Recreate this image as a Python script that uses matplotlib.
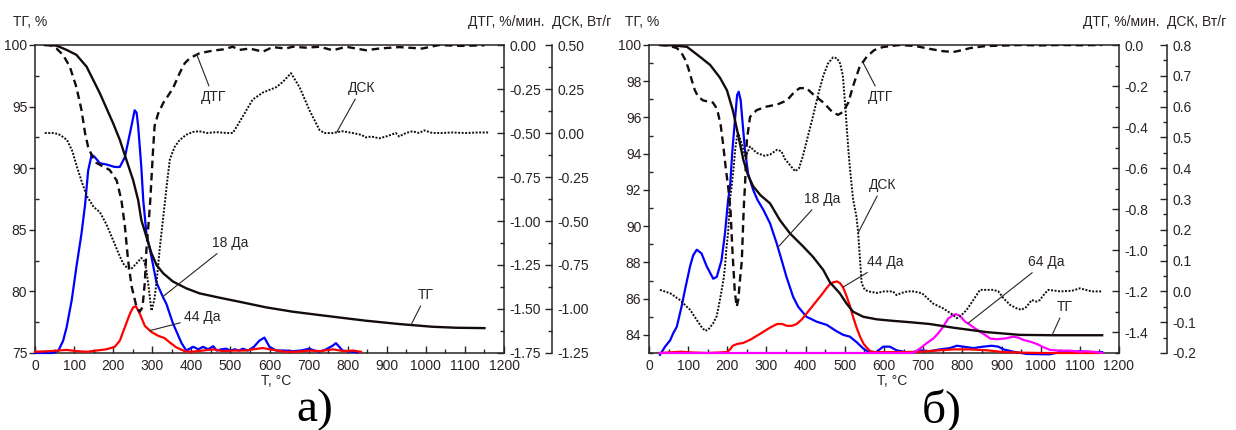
import numpy as np
import matplotlib
matplotlib.use("Agg")
import matplotlib.pyplot as plt
from matplotlib.ticker import MultipleLocator, FormatStrFormatter

plt.rcParams['font.family'] = ['Liberation Sans', 'DejaVu Sans']
plt.rcParams['axes.unicode_minus'] = False

INK = '#2a2323'
BLUE = '#0000ff'
RED = '#ff0000'
MAGENTA = '#ff00ff'

# ---------------- Panel a ----------------
A_TG_T = [25, 55, 81, 106, 132, 149, 166, 183, 200, 217, 234, 251, 264, 272, 285, 298, 311, 328,
          353, 387, 421, 472, 523, 592, 660, 728, 800, 847, 932, 1017, 1077, 1150]
A_TG = [100.0, 99.95, 99.6, 99.2, 98.24, 97.16, 96.08, 94.86, 93.64, 92.3, 90.66, 89.04, 87.4, 85.8,
        84.44, 83.1, 82.14, 81.47, 80.8, 80.25, 79.84, 79.49, 79.16, 78.7, 78.35, 78.08, 77.8, 77.62,
        77.35, 77.13, 77.05, 77.02]

A_DTG_T = [25, 38, 55, 72, 89, 106, 119, 128, 136, 145, 157, 174, 191, 209, 221, 230, 238, 247, 260,
           268, 275, 281, 285, 292, 295, 302, 306, 315, 328, 340, 353, 370, 383, 396, 421, 455, 481,
           506, 523, 549, 583, 608, 642, 659, 693, 728, 762, 796, 847, 881, 932, 991, 1034, 1085, 1150]
A_DTG = [0.0, 0.0, -0.02, -0.057, -0.123, -0.24, -0.37, -0.5, -0.58, -0.625, -0.67, -0.69, -0.71,
         -0.77, -0.88, -1.03, -1.22, -1.37, -1.49, -1.515, -1.49, -1.35, -1.165, -0.975, -0.88, -0.6,
         -0.46, -0.39, -0.33, -0.29, -0.246, -0.16, -0.104, -0.075, -0.047, -0.032, -0.025, -0.01,
         -0.028, -0.02, -0.038, -0.012, -0.02, -0.01, -0.015, -0.01, -0.03, -0.01, -0.03, -0.02,
         -0.012, -0.02, 0.0, -0.005, -0.002]

A_DSC_T = [25, 45, 59, 70, 82, 95, 107, 120, 133, 150, 166, 183, 200, 213, 225, 237, 247, 260, 272,
           280, 285, 291, 298, 305, 311, 319, 326, 332, 339, 345, 357, 370, 387, 404, 420, 440, 464,
           490, 506, 520, 541, 557, 583, 600, 617, 634, 655, 677, 702, 728, 740, 762, 787, 813, 834,
           847, 860, 881, 898, 911, 923, 932, 949, 966, 983, 996, 1017, 1042, 1068, 1102, 1136, 1162]
A_DSC = [0.0, 0.0, -0.005, -0.02, -0.04, -0.1, -0.19, -0.28, -0.36, -0.42, -0.45, -0.52, -0.61,
         -0.68, -0.74, -0.77, -0.77, -0.74, -0.71, -0.73, -0.78, -0.88, -1.01, -0.95, -0.85, -0.66,
         -0.52, -0.40, -0.26, -0.15, -0.08, -0.04, -0.01, 0.006, 0.01, 0.0, 0.005, 0.0, 0.0, 0.05,
         0.13, 0.19, 0.23, 0.245, 0.26, 0.29, 0.34, 0.26, 0.13, 0.017, 0.0, 0.0, 0.01, 0.0, -0.01,
         -0.025, -0.02, -0.03, -0.02, -0.01, 0.0, -0.02, 0.0, 0.01, 0.0, 0.015, 0.0, 0.0, 0.003,
         0.0, 0.003, 0.003]

A_M18_T = [0, 30, 45, 60, 72, 81, 94, 106, 119, 128, 136, 145, 153, 166, 183, 204, 217, 230, 243,
           255, 260, 264, 272, 277, 285, 298, 311, 328, 336, 353, 375, 387, 405, 418, 430, 443, 456,
           465, 477, 489, 500, 511, 522, 532, 545, 560, 574, 587, 600, 617, 640, 660, 680, 702, 715,
           728, 745, 762, 770, 787, 800, 813, 826]
A_M18 = [75.0, 75.0, 75.0, 75.2, 76.0, 77.1, 79.3, 82.0, 84.7, 87.0, 89.8, 91.1, 90.9, 90.4, 90.3,
         90.1, 90.1, 90.9, 92.85, 94.7, 94.5, 93.4, 90.1, 87.4, 84.7, 82.8, 80.7, 79.5, 79.0, 77.4,
         75.8, 75.2, 75.5, 75.3, 75.5, 75.3, 75.55, 75.2, 75.3, 75.35, 75.2, 75.3, 75.2, 75.35, 75.2,
         75.5, 76.0, 76.25, 75.5, 75.2, 75.2, 75.15, 75.2, 75.35, 75.2, 75.1, 75.3, 75.6, 75.8, 75.2,
         75.15, 75.1, 75.05]

A_M44_T = [0, 38, 81, 107, 133, 157, 183, 204, 217, 230, 243, 251, 258, 268, 281, 298, 315, 332,
           345, 362, 383, 400, 430, 456, 480, 510, 540, 558, 583, 610, 640, 670, 702, 730, 762, 790,
           813, 834]
A_M44 = [75.1, 75.15, 75.25, 75.15, 75.1, 75.2, 75.3, 75.5, 76.0, 77.1, 78.2, 78.7, 78.8, 78.2,
         77.2, 76.7, 76.4, 76.2, 75.85, 75.45, 75.15, 75.1, 75.2, 75.3, 75.15, 75.2, 75.2, 75.3, 75.4,
         75.25, 75.1, 75.1, 75.2, 75.15, 75.3, 75.15, 75.2, 75.1]

# ---------------- Panel б ----------------
B_TG_T = [28, 60, 97, 130, 156, 181, 199, 214, 227, 241, 253, 266, 285, 309, 334, 360, 394, 419,
          445, 462, 487, 504, 521, 547, 581, 620, 666, 717, 776, 863, 947, 1032, 1100, 1157]
B_TG = [100.0, 99.98, 99.9, 99.35, 98.9, 98.2, 97.5, 96.4, 95.1, 93.65, 92.8, 92.2, 91.7, 91.26,
        90.34, 89.6, 88.87, 88.3, 87.58, 86.9, 86.3, 85.74, 85.28, 85.0, 84.86, 84.78, 84.7, 84.6,
        84.4, 84.15, 84.0, 83.98, 83.98, 83.98]

B_DTG_T = [28, 50, 71, 82, 92, 100, 109, 117, 125, 138, 150, 163, 170, 176, 183, 189, 196, 202, 208,
           213, 219, 224, 228, 232, 237, 241, 243, 245, 250, 258, 275, 300, 327, 352, 372, 385, 402,
           419, 445, 470, 483, 496, 509, 521, 538, 556, 575, 597, 640, 680, 720, 750, 777, 800, 820,
           860, 900, 950, 1000, 1050, 1100, 1157]
B_DTG = [0.0, -0.003, -0.015, -0.035, -0.07, -0.11, -0.17, -0.22, -0.25, -0.27, -0.275, -0.28,
         -0.3, -0.33, -0.39, -0.48, -0.6, -0.69, -0.8, -1.0, -1.2, -1.275, -1.24, -1.15, -1.05,
         -0.84, -0.75, -0.69, -0.46, -0.35, -0.317, -0.3, -0.29, -0.27, -0.227, -0.21, -0.21, -0.24,
         -0.28, -0.33, -0.34, -0.325, -0.28, -0.2, -0.105, -0.057, -0.025, -0.01, 0.0, -0.005,
         -0.02, -0.03, -0.034, -0.025, -0.015, -0.005, -0.003, 0.0, -0.002, 0.0, -0.001, 0.0]

B_DSC_T = [28, 54, 79, 105, 122, 134, 143, 151, 164, 173, 181, 190, 194, 198, 202, 207, 211, 216,
           220, 225, 229, 234, 239, 245, 251, 258, 266, 275, 285, 296, 310, 327, 338, 347, 360, 373,
           383, 393, 405, 419, 432, 445, 457, 470, 480, 488, 495, 500, 509, 513, 521, 530, 534, 543,
           551, 560, 582, 600, 623, 632, 645, 660, 675, 697, 709, 726, 751, 777, 786, 798, 811, 828,
           845, 879, 892, 905, 922, 939, 951, 964, 977, 990, 998, 1011, 1020, 1050, 1080, 1100, 1130,
           1157]
B_DSC = [0.005, -0.006, -0.028, -0.06, -0.093, -0.115, -0.128, -0.125, -0.103, -0.08, -0.028,
         0.037, 0.08, 0.145, 0.19, 0.30, 0.34, 0.40, 0.46, 0.505, 0.51, 0.49, 0.47, 0.44, 0.45,
         0.47, 0.46, 0.45, 0.445, 0.44, 0.445, 0.46, 0.455, 0.43, 0.41, 0.39, 0.40, 0.44, 0.50,
         0.57, 0.64, 0.70, 0.74, 0.76, 0.757, 0.74, 0.70, 0.62, 0.46, 0.40, 0.30, 0.24, 0.19, 0.026,
         0.005, 0.0, -0.005, 0.0, 0.0, -0.012, -0.005, 0.0, 0.0, -0.006, -0.02, -0.04, -0.055,
         -0.077, -0.087, -0.077, -0.06, -0.028, 0.005, 0.005, 0.0, -0.022, -0.044, -0.055, -0.06,
         -0.05, -0.028, -0.033, -0.028, -0.006, 0.005, 0.0, 0.002, 0.01, 0.0, 0.0]

B_M18_T = [28, 41, 54, 62, 71, 83, 92, 105, 113, 122, 134, 147, 164, 173, 185, 194, 202, 207, 213,
           220, 225, 229, 234, 239, 245, 253, 266, 277, 292, 309, 326, 339, 351, 368, 381, 402, 428,
           454, 479, 496, 513, 530, 547, 560, 580, 598, 615, 632, 666, 692, 717, 743, 768, 786, 803,
           828, 853, 875, 892, 905, 930, 964, 1007, 1024, 1049, 1083, 1100, 1118, 1157]
B_M18 = [82.9, 83.35, 83.7, 84.1, 84.45, 85.55, 86.5, 87.8, 88.4, 88.7, 88.5, 87.8, 87.1, 87.2,
         88.1, 89.6, 91.45, 92.2, 94.2, 96.0, 97.24, 97.42, 96.96, 95.7, 94.2, 92.9, 92.0, 91.45,
         90.9, 90.16, 89.05, 88.1, 87.2, 86.1, 85.55, 85.0, 84.73, 84.55, 84.2, 84.0, 83.9, 83.6,
         83.25, 83.07, 83.05, 83.35, 83.35, 83.15, 83.0, 83.15, 83.1, 83.2, 83.27, 83.4, 83.35,
         83.27, 83.35, 83.4, 83.35, 83.2, 83.07, 82.95, 82.93, 82.93, 83.05, 83.05, 83.1, 83.05,
         83.05]

B_M44_T = [28, 80, 110, 150, 199, 207, 214, 225, 240, 260, 283, 309, 327, 340, 352, 365, 377, 390,
           403, 416, 429, 442, 454, 462, 470, 480, 488, 496, 505, 513, 521, 530, 539, 548, 556, 565,
           573, 600, 650, 692, 743, 777, 820, 863, 905, 950, 1000, 1050, 1100, 1150]
B_M44 = [83.0, 83.07, 83.03, 83.0, 83.05, 83.2, 83.4, 83.5, 83.55, 83.75, 84.05, 84.4, 84.6, 84.6,
         84.5, 84.5, 84.6, 84.85, 85.2, 85.55, 85.9, 86.25, 86.6, 86.8, 86.9, 86.95, 86.85, 86.6,
         86.1, 85.6, 85.0, 84.4, 83.9, 83.5, 83.3, 83.1, 83.05, 83.05, 83.05, 83.07, 83.15, 83.2,
         83.2, 83.15, 83.05, 83.02, 83.0, 83.0, 83.0, 83.0]

B_M64_T = [28, 300, 600, 674, 692, 709, 726, 739, 751, 764, 777, 784, 794, 807, 820, 832, 845, 858,
           871, 888, 909, 930, 943, 956, 973, 990, 1007, 1024, 1049, 1075, 1100, 1118, 1143, 1157]
B_M64 = [83.0, 83.0, 83.0, 83.0, 83.25, 83.54, 83.8, 84.1, 84.45, 84.9, 85.1, 85.14, 85.05, 84.73,
         84.55, 84.36, 84.18, 84.0, 83.8, 83.76, 83.8, 83.9, 83.85, 83.72, 83.63, 83.5, 83.32,
         83.17, 83.13, 83.13, 83.07, 83.1, 83.05, 83.0]

T_TICKS = list(range(0, 1201, 100))

W, H = 1236, 430
fig = plt.figure(figsize=(W / 100, H / 100), dpi=100)


def fx(x):
    return x / W


def fy(y):
    return 1 - y / H


def build_panel(left_px, right_px, tg_lim, tg_major, tg_minor,
                dtg_lim, dtg_major, dtg_minor, dtg_fmt,
                dsc_lim, dsc_major, dsc_minor, dsc_fmt):
    top_px, bot_px = 45, 353
    ax = fig.add_axes([fx(left_px), fy(bot_px), (right_px - left_px) / W, (bot_px - top_px) / H])
    ax_dtg = ax.twinx()
    ax_dsc = ax.twinx()
    ax.set_xlim(0, 1200)
    ax.set_ylim(*tg_lim)
    ax_dtg.set_ylim(*dtg_lim)
    ax_dsc.set_ylim(*dsc_lim)

    ax.set_xticks(T_TICKS)
    ax.xaxis.set_minor_locator(MultipleLocator(50))
    ax.yaxis.set_major_locator(MultipleLocator(tg_major))
    ax.yaxis.set_minor_locator(MultipleLocator(tg_minor))
    ax_dtg.yaxis.set_major_locator(MultipleLocator(dtg_major))
    ax_dtg.yaxis.set_minor_locator(MultipleLocator(dtg_minor))
    ax_dtg.yaxis.set_major_formatter(FormatStrFormatter(dtg_fmt))
    ax_dsc.yaxis.set_major_locator(MultipleLocator(dsc_major))
    ax_dsc.yaxis.set_minor_locator(MultipleLocator(dsc_minor))
    ax_dsc.yaxis.set_major_formatter(FormatStrFormatter(dsc_fmt))
    ax_dsc.spines['right'].set_position(('axes', 1 + 48 / (right_px - left_px)))

    ax.spines['right'].set_visible(False)
    for a in (ax_dtg, ax_dsc):
        for s in ('left', 'top', 'bottom'):
            a.spines[s].set_visible(False)
    for a in (ax, ax_dtg, ax_dsc):
        for s in a.spines.values():
            s.set_color(INK)
            s.set_linewidth(1.1)

    ax.tick_params(axis='x', which='major', direction='in', length=5, width=1.0,
                   pad=4, labelsize=10, colors=INK)
    ax.tick_params(axis='x', which='minor', direction='in', length=3, width=1.0, colors=INK)
    ax.tick_params(axis='y', which='major', direction='out', length=4, width=1.0,
                   pad=1.5, labelsize=10, colors=INK)
    ax.tick_params(axis='y', which='minor', direction='in', length=3, width=1.0, colors=INK)
    for a in (ax_dtg, ax_dsc):
        a.tick_params(axis='y', which='major', direction='in', length=5, width=1.0,
                      pad=4, labelsize=10, colors=INK)
        a.tick_params(axis='y', which='minor', direction='in', length=3, width=1.0, colors=INK)
    return ax, ax_dtg, ax_dsc


def draw_curves(ax, ax_dtg, ax_dsc, tg, dtg, dsc, masses):
    for (t, v, color) in masses:
        ax.plot(t, v, color=color, lw=1.6, clip_on=False, zorder=3)
    ax.plot(tg[0], tg[1], color='#140c0c', lw=1.7, zorder=4)
    ax_dtg.plot(dtg[0], dtg[1], color='#140c0c', lw=1.7, linestyle=(0, (3.2, 2.0)))
    ax_dsc.plot(dsc[0], dsc[1], color='#140c0c', lw=1.4, linestyle=(0, (1.0, 0.8)))


def label(ax_top, text, t_curve, curve, src_ax, t_text, y_text, ax_text):
    y_hit = float(np.interp(t_curve, curve[0], curve[1]))
    ax_top.annotate(text, xy=(t_curve, y_hit), xycoords=src_ax.transData,
                    xytext=(t_text, y_text), textcoords=ax_text.transData,
                    ha='center', va='center', fontsize=10, color=INK,
                    annotation_clip=False,
                    arrowprops=dict(arrowstyle='-', color=INK, lw=0.8,
                                    shrinkA=1, shrinkB=0))


# Panel a
ax_a, dtg_a, dsc_a = build_panel(35, 504, (75, 100), 5, 2.5,
                                 (-1.75, 0.0), 0.25, 0.125, '%.2f',
                                 (-1.25, 0.5), 0.25, 0.125, '%.2f')
draw_curves(ax_a, dtg_a, dsc_a, (A_TG_T, A_TG), (A_DTG_T, A_DTG), (A_DSC_T, A_DSC),
            [(A_M18_T, A_M18, BLUE), (A_M44_T, A_M44, RED)])
label(dsc_a, 'ДТГ', 414, (A_DTG_T, A_DTG), dtg_a, 456, 95.78, ax_a)
label(dsc_a, 'ДСК', 772, (A_DSC_T, A_DSC), dsc_a, 835, 96.5, ax_a)
label(dsc_a, '18 Да', 327, (A_M18_T, A_M18), ax_a, 500, 83.93, ax_a)
label(dsc_a, '44 Да', 294, (A_M44_T, A_M44), ax_a, 429, 77.92, ax_a)
label(dsc_a, 'ТГ', 962, (A_TG_T, A_TG), ax_a, 1001, 79.71, ax_a)

# Panel б
ax_b, dtg_b, dsc_b = build_panel(649, 1119, (83, 100), 2, 1,
                                 (-1.5, 0.0), 0.2, 0.1, '%.1f',
                                 (-0.2, 0.8), 0.1, 0.05, '%.1f')
draw_curves(ax_b, dtg_b, dsc_b, (B_TG_T, B_TG), (B_DTG_T, B_DTG), (B_DSC_T, B_DSC),
            [(B_M18_T, B_M18, BLUE), (B_M44_T, B_M44, RED), (B_M64_T, B_M64, MAGENTA)])
label(dsc_b, 'ДТГ', 546, (B_DTG_T, B_DTG), dtg_b, 592, 97.13, ax_b)
label(dsc_b, 'ДСК', 534, (B_DSC_T, B_DSC), dsc_b, 597, 92.27, ax_b)
label(dsc_b, '18 Да', 329, (B_M18_T, B_M18), ax_b, 441, 91.5, ax_b)
label(dsc_b, '44 Да', 495, (B_M44_T, B_M44), ax_b, 602, 88.02, ax_b)
label(dsc_b, '64 Да', 814, (B_M64_T, B_M64), ax_b, 1013, 88.02, ax_b)
label(dsc_b, 'ТГ', 1029, (B_TG_T, B_TG), ax_b, 1062, 85.54, ax_b)

# Axis captions
for x_tg, x_dtg, x_dsc, x_t in ((30, 506, 552, 276), (642, 1121, 1167, 892)):
    fig.text(fx(x_tg), fy(22), 'ТГ, %', ha='center', va='center', fontsize=10, color=INK)
    fig.text(fx(x_dtg), fy(22), 'ДТГ, %/мин.', ha='center', va='center', fontsize=10, color=INK)
    fig.text(fx(x_dsc), fy(22), 'ДСК, Вт/г', ha='left', va='center', fontsize=10, color=INK)
    fig.text(fx(x_t), fy(381), 'T, °C', ha='center', va='center', fontsize=10, color=INK)

fig.text(fx(315), fy(410), 'а)', ha='center', va='center', fontsize=34,
         family='Liberation Serif', color='black')
fig.text(fx(942), fy(410), 'б)', ha='center', va='center', fontsize=34,
         family='Liberation Serif', color='black')

fig.savefig('out.png', dpi=100)
